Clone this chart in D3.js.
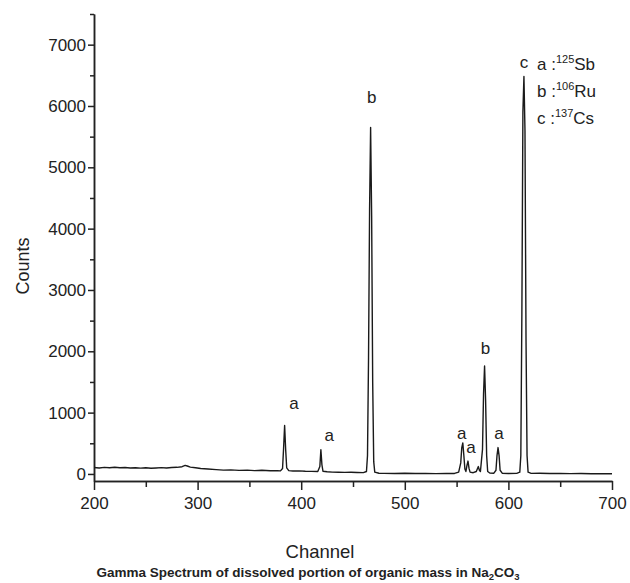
<!DOCTYPE html>
<html>
<head>
<meta charset="utf-8">
<script src="https://cdn.jsdelivr.net/npm/d3@7"></script>
<style>
  body { margin: 0; background: #fff; }
  svg { font-family: "Liberation Sans", Arial, sans-serif; }
  .axis path, .axis line { stroke: #222; stroke-width: 1.5; }
  .axis text { font-size: 17px; fill: #222; }
</style>
</head>
<body>
<div id="chart"></div>
<script>
// spectrum (channel, counts)
var channels = [200, 205, 210, 215, 220, 225, 230, 235, 240, 245, 250, 255, 260, 265, 270, 275, 280, 285, 288, 290, 293, 298,
  303, 310, 318, 325, 332, 340, 348, 355, 362, 370, 377, 380, 382, 383, 384, 385, 386, 388, 392, 398, 404, 410, 416, 418,
  419, 420, 421, 425, 430, 436, 442, 448, 454, 460, 463, 464, 465, 466, 467, 468, 469, 470, 471, 475, 480, 490, 500, 510,
  520, 530, 540, 548, 552, 554, 555, 556, 557, 558, 559, 560, 561, 562, 563, 566, 569, 571, 572, 573, 575, 576, 577, 578,
  579, 580, 582, 586, 588, 589, 590, 591, 592, 594, 600, 608, 611, 612, 613, 614, 615, 616, 617, 618, 619, 622, 630, 640,
  650, 660, 670, 680, 690, 700];
var counts = [105, 98, 108, 102, 110, 100, 104, 97, 102, 95, 100, 93, 98, 103, 96, 104, 108, 118, 140, 130, 112, 100,
  88, 80, 70, 62, 66, 58, 62, 55, 60, 52, 54, 50, 90, 420, 790, 400, 100, 55, 48, 50, 44, 42, 40, 120,
  395, 150, 45, 36, 30, 28, 25, 28, 24, 22, 40, 300, 1900, 4300, 5650, 4200, 1500, 200, 30, 12, 10, 8, 12, 8,
  10, 6, 10, 8, 30, 180, 430, 505, 300, 80, 40, 140, 210, 90, 30, 20, 40, 120, 60, 40, 400, 1300, 1760, 1200,
  300, 40, 15, 12, 60, 300, 430, 300, 60, 12, 8, 10, 30, 300, 2600, 5900, 6480, 5600, 2200, 300, 30, 10, 12, 8,
  10, 6, 8, 4, 6, 3];

// peak labels
var peakLabels = ["a", "a", "b", "a", "a", "b", "a", "c"];
var peakLabelX = [393, 427, 468, 555, 564, 578, 591, 615];
var peakLabelY = [1150, 640, 6150, 670, 440, 2050, 670, 6720];

// legend
var legendLetters = ["a", "b", "c"];
var legendMass = ["125", "106", "137"];
var legendNuclide = ["Sb", "Ru", "Cs"];

var xTicks = [200, 300, 400, 500, 600, 700];
var xMinor = [250, 350, 450, 550, 650];
var yTicks = [0, 1000, 2000, 3000, 4000, 5000, 6000, 7000];
var yMinor = [500, 1500, 2500, 3500, 4500, 5500, 6500, 7500];

var width = 630,
  height = 583,
  margin = {top: 14, right: 18, bottom: 102, left: 94};

var svg = d3.select("#chart").append("svg")
  .attr("width", width)
  .attr("height", height);

var x = d3.scaleLinear().domain([200, 700]).range([margin.left, width - margin.right]);
var y = d3.scaleLinear().domain([-115, 7500]).range([height - margin.bottom, margin.top]);

var data = channels.map(function(c, i) {
  return {ch: c, v: counts[i]};
});

// axes
svg.append("g")
  .attr("class", "axis x")
  .attr("transform", "translate(0," + y(-115) + ")")
  .call(d3.axisBottom(x).tickValues(xTicks).tickSize(9).tickPadding(7).tickSizeOuter(0));
svg.append("g")
  .attr("class", "axis x minor")
  .attr("transform", "translate(0," + y(-115) + ")")
  .call(d3.axisBottom(x).tickValues(xMinor).tickSize(6).tickFormat("").tickSizeOuter(0));

svg.append("g")
  .attr("class", "axis y")
  .attr("transform", "translate(" + x(200) + ",0)")
  .call(d3.axisLeft(y).tickValues(yTicks).tickSize(6).tickPadding(2).tickSizeOuter(0).tickFormat(d3.format("d")));
svg.append("g")
  .attr("class", "axis y minor")
  .attr("transform", "translate(" + x(200) + ",0)")
  .call(d3.axisLeft(y).tickValues(yMinor).tickSize(4).tickFormat("").tickSizeOuter(0));

// spectrum
var line = d3.line()
  .x(function(d) { return x(d.ch); })
  .y(function(d) { return y(d.v); });

svg.append("path")
  .datum(data)
  .attr("d", line)
  .attr("fill", "none")
  .attr("stroke", "#1a1a1a")
  .attr("stroke-width", 1.4)
  .attr("stroke-linejoin", "round");

// peak letters
svg.selectAll("text.peak")
  .data(peakLabels)
  .enter()
  .append("text")
  .attr("class", "peak")
  .attr("x", function(d, i) { return x(peakLabelX[i]); })
  .attr("y", function(d, i) { return y(peakLabelY[i]); })
  .attr("dy", "0.35em")
  .attr("text-anchor", "middle")
  .attr("font-size", 17)
  .attr("fill", "#222")
  .text(function(d) { return d; });

// legend
var legend = svg.append("g")
  .attr("class", "legend")
  .attr("transform", "translate(537,70)");
var rows = legend.selectAll("text")
  .data(legendLetters)
  .enter()
  .append("text")
  .attr("y", function(d, i) { return i * 27; })
  .attr("font-size", 17)
  .attr("fill", "#222");
rows.append("tspan").text(function(d) { return d + " :"; });
rows.append("tspan")
  .attr("font-size", 11)
  .attr("dy", -7)
  .text(function(d, i) { return legendMass[i]; });
rows.append("tspan")
  .attr("dy", 7)
  .text(function(d, i) { return legendNuclide[i]; });

// axis titles
svg.append("text")
  .attr("transform", "translate(29," + 266 + ") rotate(-90)")
  .attr("text-anchor", "middle")
  .attr("font-size", 18)
  .attr("fill", "#222")
  .text("Counts");

svg.append("text")
  .attr("x", 320)
  .attr("y", 558)
  .attr("text-anchor", "middle")
  .attr("font-size", 18.5)
  .attr("fill", "#222")
  .text("Channel");

var title = svg.append("text")
  .attr("x", 308)
  .attr("y", 577)
  .attr("text-anchor", "middle")
  .attr("font-size", 13.5)
  .attr("font-weight", "bold")
  .attr("fill", "#222");
title.append("tspan").text("Gamma Spectrum of dissolved portion of organic mass in Na");
title.append("tspan").attr("font-size", 9.5).attr("dy", 3).text("2");
title.append("tspan").attr("dy", -3).text("CO");
title.append("tspan").attr("font-size", 9.5).attr("dy", 3).text("3");
</script>
</body>
</html>
